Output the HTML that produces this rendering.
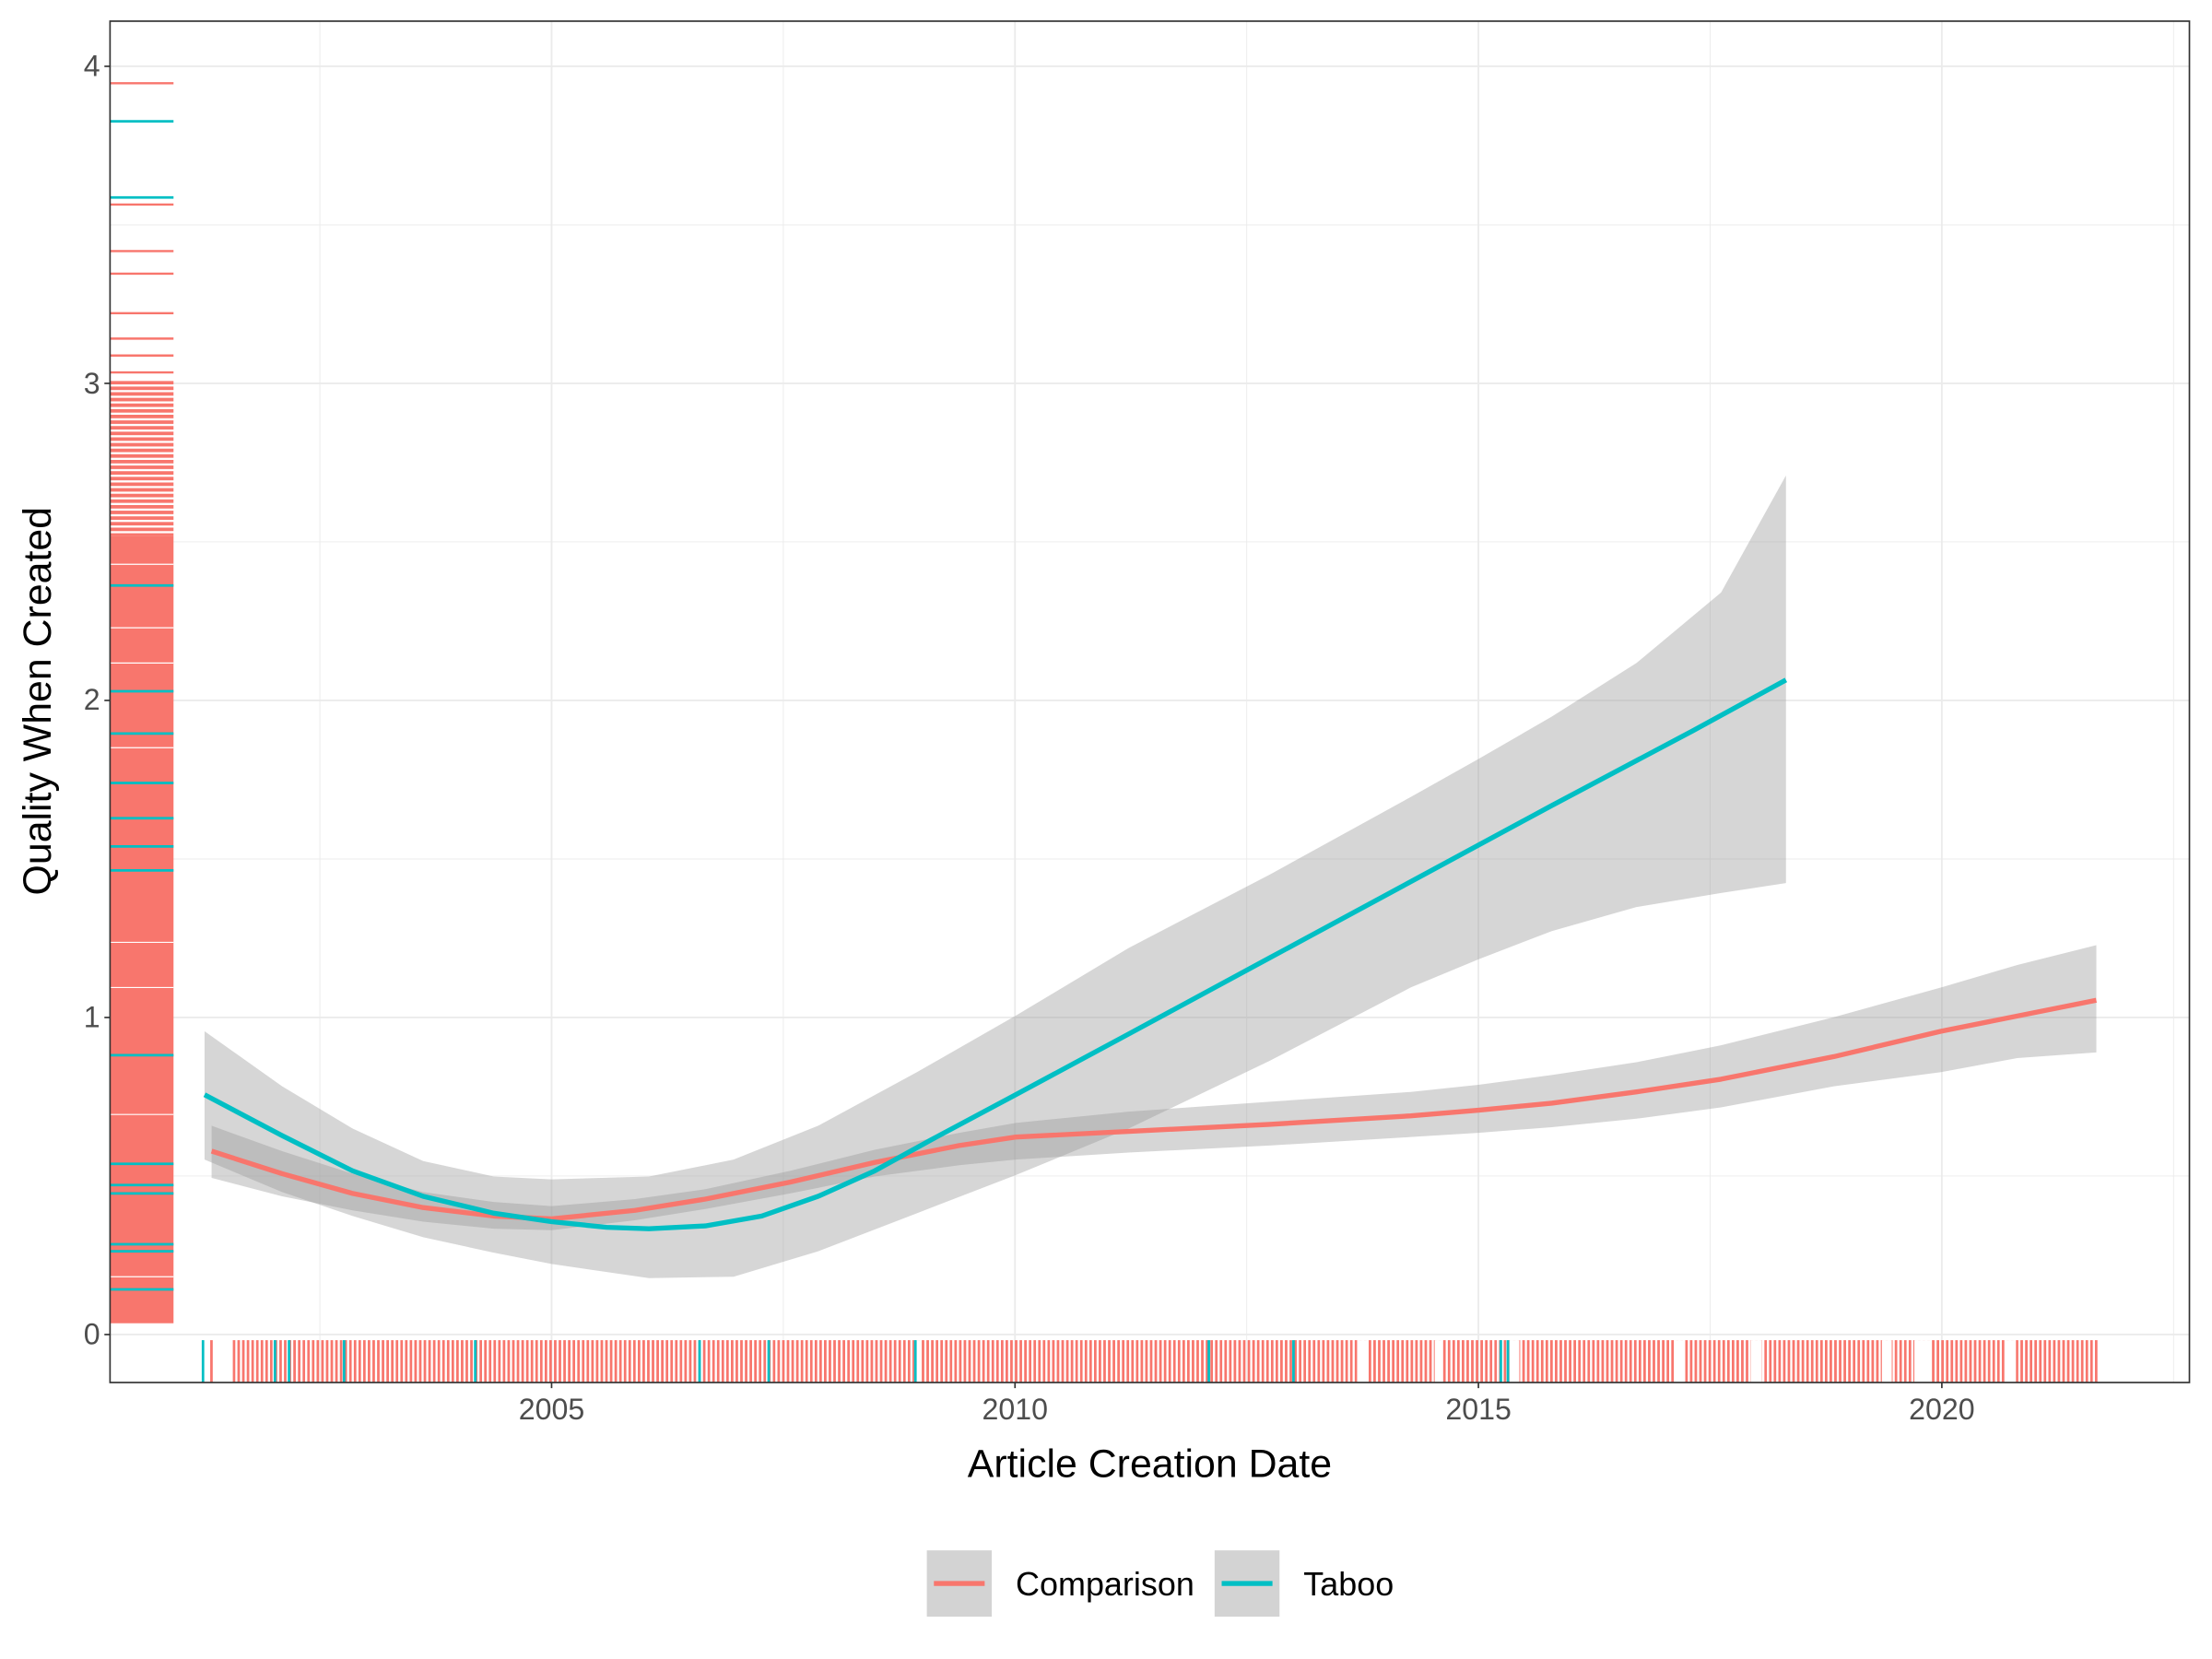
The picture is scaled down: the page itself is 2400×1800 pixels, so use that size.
<!DOCTYPE html>
<html><head><meta charset="utf-8"><style>html,body{margin:0;padding:0;background:#fff}svg{display:block}</style></head>
<body>
<svg width="2400" height="1800" viewBox="0 0 1568 1176" xmlns="http://www.w3.org/2000/svg" font-family="Liberation Sans, Arial, sans-serif">
<defs>
<pattern id="vr" x="165" y="0" width="3.3" height="40" patternUnits="userSpaceOnUse"><rect x="0" y="0" width="1.8" height="40" fill="#F8766D"/></pattern>
<pattern id="hr" x="0" y="270" width="10" height="4" patternUnits="userSpaceOnUse"><rect x="0" y="0" width="10" height="2.5" fill="#F8766D"/></pattern>
<clipPath id="pc"><rect x="78" y="15" width="1474" height="965"/></clipPath>
</defs>
<rect x="78" y="15" width="1474" height="965" fill="#fff"/>
<g stroke="#EBEBEB" stroke-width="0.6">
<line x1="78" x2="1552" y1="833.6" y2="833.6"/><line x1="78" x2="1552" y1="608.9" y2="608.9"/><line x1="78" x2="1552" y1="384.1" y2="384.1"/><line x1="78" x2="1552" y1="159.4" y2="159.4"/>
<line y1="15" y2="980" x1="226.75" x2="226.75"/><line y1="15" y2="980" x1="555.25" x2="555.25"/><line y1="15" y2="980" x1="883.75" x2="883.75"/><line y1="15" y2="980" x1="1212.25" x2="1212.25"/><line y1="15" y2="980" x1="1540.75" x2="1540.75"/>
</g>
<g stroke="#EBEBEB" stroke-width="1.2">
<line x1="78" x2="1552" y1="946" y2="946"/><line x1="78" x2="1552" y1="721.25" y2="721.25"/><line x1="78" x2="1552" y1="496.5" y2="496.5"/><line x1="78" x2="1552" y1="271.75" y2="271.75"/><line x1="78" x2="1552" y1="47" y2="47"/>
<line y1="15" y2="980" x1="391" x2="391"/><line y1="15" y2="980" x1="719.5" x2="719.5"/><line y1="15" y2="980" x1="1048" x2="1048"/><line y1="15" y2="980" x1="1376.5" x2="1376.5"/>
</g>
<g clip-path="url(#pc)">
<rect x="78" y="270" width="45" height="110" fill="url(#hr)"/>
<rect x="78" y="380" width="45" height="558" fill="#F8766D"/>
<g stroke="#F8766D" stroke-width="1.6">
<line x1="78" x2="123" y1="59" y2="59"/><line x1="78" x2="123" y1="145" y2="145"/><line x1="78" x2="123" y1="178" y2="178"/><line x1="78" x2="123" y1="194" y2="194"/><line x1="78" x2="123" y1="222" y2="222"/><line x1="78" x2="123" y1="240" y2="240"/><line x1="78" x2="123" y1="252" y2="252"/><line x1="78" x2="123" y1="264" y2="264"/>
</g>
<g stroke="#fff" stroke-width="0.8">
<line x1="78" x2="123" y1="400" y2="400"/><line x1="78" x2="123" y1="445" y2="445"/><line x1="78" x2="123" y1="470" y2="470"/><line x1="78" x2="123" y1="530" y2="530"/><line x1="78" x2="123" y1="668" y2="668"/><line x1="78" x2="123" y1="700" y2="700"/><line x1="78" x2="123" y1="790" y2="790"/><line x1="78" x2="123" y1="905" y2="905"/>
</g>
<g stroke="#00BFC4" stroke-width="1.8">
<line x1="78" x2="123" y1="86" y2="86"/><line x1="78" x2="123" y1="140" y2="140"/><line x1="78" x2="123" y1="415" y2="415"/><line x1="78" x2="123" y1="490" y2="490"/><line x1="78" x2="123" y1="520" y2="520"/><line x1="78" x2="123" y1="555" y2="555"/><line x1="78" x2="123" y1="580" y2="580"/><line x1="78" x2="123" y1="600" y2="600"/><line x1="78" x2="123" y1="617" y2="617"/><line x1="78" x2="123" y1="748" y2="748"/><line x1="78" x2="123" y1="825" y2="825"/><line x1="78" x2="123" y1="840" y2="840"/><line x1="78" x2="123" y1="846" y2="846"/><line x1="78" x2="123" y1="882" y2="882"/><line x1="78" x2="123" y1="887" y2="887"/><line x1="78" x2="123" y1="914" y2="914"/>
</g>
<rect x="165" y="950" width="1322" height="30" fill="url(#vr)"/>
<g fill="#fff">
<rect x="648" y="950" width="4" height="30"/><rect x="962" y="950" width="7" height="30"/><rect x="1017" y="950" width="5" height="30"/><rect x="1070" y="950" width="7" height="30"/><rect x="1187" y="950" width="7" height="30"/><rect x="1241" y="950" width="8" height="30"/><rect x="1334" y="950" width="7" height="30"/><rect x="1357" y="950" width="12" height="30"/><rect x="1422" y="950" width="7" height="30"/>
</g>
<rect x="149" y="950" width="1.8" height="30" fill="#F8766D"/>
<g fill="#00BFC4">
<rect x="143" y="950" width="1.8" height="30"/><rect x="194" y="950" width="1.8" height="30"/><rect x="204" y="950" width="1.8" height="30"/><rect x="243" y="950" width="1.8" height="30"/><rect x="336" y="950" width="1.8" height="30"/><rect x="495" y="950" width="1.8" height="30"/><rect x="544" y="950" width="1.8" height="30"/><rect x="648" y="950" width="1.8" height="30"/><rect x="856" y="950" width="1.8" height="30"/><rect x="916" y="950" width="1.8" height="30"/><rect x="1063" y="950" width="1.8" height="30"/><rect x="1068" y="950" width="1.8" height="30"/>
</g>
<polygon fill="#999999" fill-opacity="0.4" points="150,798 200,816 250,832 300,845 350,852 391,855 450,850 500,843 560,830 620,815 680,803 720,796 800,788 900,781 1000,774 1048,769 1100,762 1160,753 1220,741 1300,721 1376,700 1430,684 1486,670 1486,746 1430,750 1376,760 1300,770 1220,785 1160,793 1100,799 1048,803 1000,806 900,812 800,817 720,822 680,826 620,834 560,846 500,857 450,865 391,872 350,871 300,866 250,858 200,848 150,835"/>
<polygon fill="#999999" fill-opacity="0.4" points="145,731 200,770 250,800 300,823 350,834 391,836 460,834 520,822 580,798 650,760 720,720 800,672 900,620 1000,565 1048,538 1100,508 1160,470 1220,420 1266,337 1266,626 1220,633 1160,643 1100,660 1048,680 1000,700 900,752 800,800 720,833 650,860 580,887 520,905 460,906 391,896 350,888 300,877 250,862 200,845 145,822"/>
<polyline fill="none" stroke="#F8766D" stroke-width="3.5" stroke-linejoin="round" points="150,816 200,832 250,846 300,856 350,862 391,864 450,858 500,850 560,838 620,824 680,812 720,806 800,802 900,797 1000,791 1048,787 1100,782 1160,774 1220,765 1300,749 1376,731 1486,709"/>
<polyline fill="none" stroke="#00BFC4" stroke-width="3.5" stroke-linejoin="round" points="145,776 200,805 250,830 300,848 350,860 391,866 430,870 460,871 500,869 540,862 580,848 620,830 660,808 720,776 800,733 900,679 1000,625 1100,571 1200,518 1266,482"/>
</g>
<rect x="78" y="15" width="1474" height="965" fill="none" stroke="#333" stroke-width="1.1"/>
<g stroke="#333" stroke-width="1.1">
<line x1="74" x2="78" y1="946" y2="946"/><line x1="74" x2="78" y1="721.25" y2="721.25"/><line x1="74" x2="78" y1="496.5" y2="496.5"/><line x1="74" x2="78" y1="271.75" y2="271.75"/><line x1="74" x2="78" y1="47" y2="47"/>
<line y1="980" y2="984" x1="391" x2="391"/><line y1="980" y2="984" x1="719.5" x2="719.5"/><line y1="980" y2="984" x1="1048" x2="1048"/><line y1="980" y2="984" x1="1376.5" x2="1376.5"/>
</g>
<g fill="#4D4D4D" font-size="21" text-anchor="end">
<text x="71" y="953">0</text><text x="71" y="728">1</text><text x="71" y="503">2</text><text x="71" y="279">3</text><text x="71" y="54">4</text>
</g>
<g fill="#4D4D4D" font-size="21" text-anchor="middle">
<text x="391" y="1006">2005</text><text x="719.5" y="1006">2010</text><text x="1048" y="1006">2015</text><text x="1376.5" y="1006">2020</text>
</g>
<text x="815" y="1047" font-size="28" text-anchor="middle" fill="#000">Article Creation Date</text>
<text transform="translate(36,497) rotate(-90)" font-size="28" text-anchor="middle" fill="#000">Quality When Created</text>
<rect x="657" y="1099" width="46" height="47" fill="#D3D3D3"/>
<line x1="662" x2="698" y1="1122.5" y2="1122.5" stroke="#F8766D" stroke-width="3.5"/>
<rect x="861" y="1099" width="46" height="47" fill="#D3D3D3"/>
<line x1="866" x2="902" y1="1122.5" y2="1122.5" stroke="#00BFC4" stroke-width="3.5"/>
<text x="720" y="1131" font-size="23.5" fill="#000">Comparison</text>
<text x="924" y="1131" font-size="23.5" fill="#000">Taboo</text>
</svg>
</body></html>
